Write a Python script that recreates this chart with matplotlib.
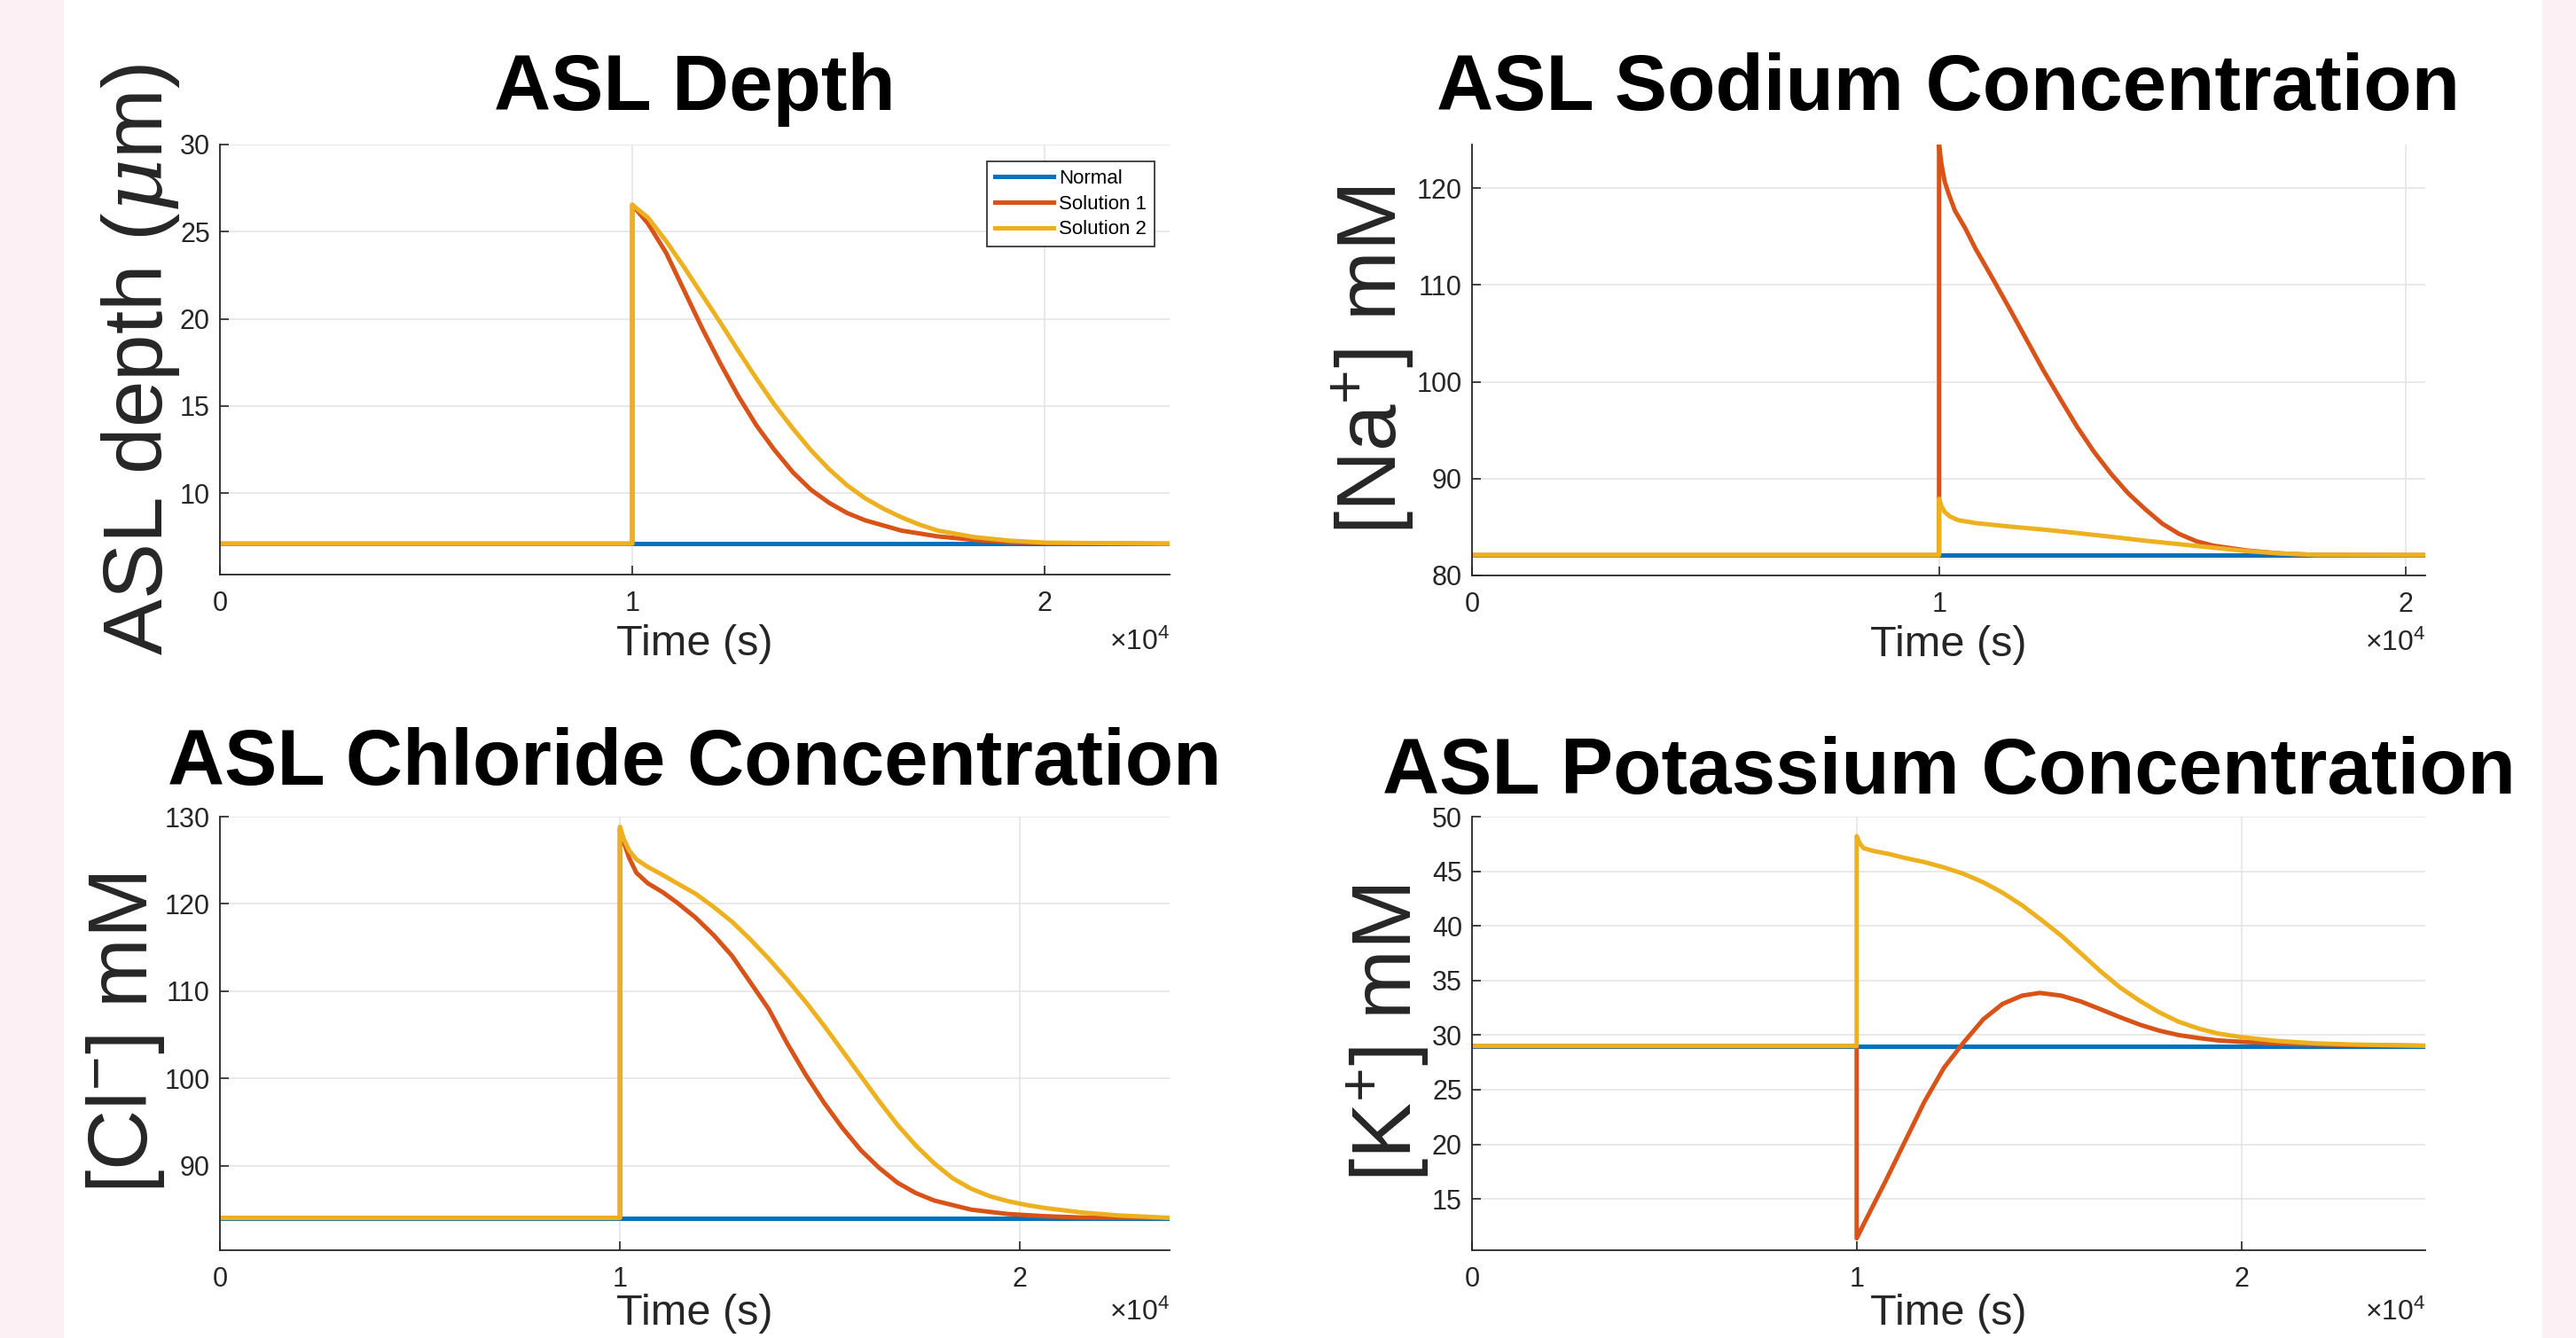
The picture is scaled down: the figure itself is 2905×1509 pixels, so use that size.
import matplotlib
matplotlib.use('Agg')
import matplotlib.pyplot as plt
from matplotlib import font_manager
from matplotlib.patches import Rectangle
from matplotlib.ticker import FuncFormatter

# ---- data (time in s) ----
series_labels = ['Normal', 'Solution 1', 'Solution 2']

depth_base = 7.1
depth_t1 = [0, 10000, 10000, 10380, 10820, 11260, 11700, 12140, 12570, 13010, 13450, 13890,
            14330, 14770, 15210, 15650, 16530, 17410, 18290, 19170, 20040, 23030]
depth_s1 = [7.1, 7.1, 26.54, 25.47, 23.79, 21.61, 19.43, 17.42, 15.57, 13.89, 12.47, 11.21,
            10.20, 9.45, 8.86, 8.44, 7.85, 7.52, 7.32, 7.18, 7.13, 7.10]
depth_t2 = [0, 10000, 10000, 10380, 10820, 11260, 11700, 12140, 12570, 13010, 13450, 13890,
            14330, 14770, 15210, 15650, 16090, 16530, 16970, 17410, 18290, 19170, 20040, 23030]
depth_s2 = [7.1, 7.1, 26.54, 25.81, 24.46, 22.95, 21.36, 19.77, 18.17, 16.58, 15.07, 13.72,
            12.47, 11.38, 10.45, 9.70, 9.11, 8.61, 8.19, 7.85, 7.48, 7.27, 7.16, 7.10]

na_base = 82.1
na_t1 = [0, 10000, 10000, 10050, 10120, 10200, 10340, 10560, 10780, 11140, 11510, 11870, 12230,
         12600, 12960, 13320, 13690, 14050, 14410, 14780, 15140, 15510, 15870, 16600, 17320,
         18050, 20410]
na_s1 = [82.1, 82.1, 124.47, 122.51, 120.69, 119.49, 117.67, 115.86, 113.75, 110.73, 107.55,
         104.38, 101.21, 98.19, 95.32, 92.75, 90.45, 88.48, 86.86, 85.35, 84.29, 83.53, 83.08,
         82.57, 82.27, 82.12, 82.1]
na_t2 = [0, 10000, 10000, 10050, 10120, 10230, 10410, 10780, 11510, 12230, 12960, 13690, 14410,
         15140, 15870, 16600, 17320, 18050, 20410]
na_s2 = [82.1, 82.1, 87.92, 87.16, 86.56, 86.10, 85.71, 85.41, 85.05, 84.74, 84.38, 83.99,
         83.59, 83.23, 82.87, 82.51, 82.27, 82.12, 82.1]

cl_base = 84.0
cl_t1 = [0, 10000, 10000, 10090, 10230, 10410, 10690, 11060, 11420, 11880, 12340, 12800, 13260,
         13720, 14180, 14640, 15100, 15560, 16020, 16480, 16940, 17400, 17860, 18780, 19700,
         20620, 21530, 23740]
cl_s1 = [84.0, 84.0, 128.6, 127.14, 125.27, 123.57, 122.38, 121.36, 120.17, 118.47, 116.43,
         114.05, 111.0, 107.93, 104.01, 100.44, 97.21, 94.32, 91.77, 89.73, 88.03, 86.84,
         85.99, 84.95, 84.45, 84.2, 84.05, 84.0]
cl_t2 = [0, 10000, 10000, 10090, 10230, 10410, 10690, 11060, 11420, 11880, 12340, 12800, 13260,
         13720, 14180, 14640, 15100, 15560, 16020, 16480, 16940, 17400, 17860, 18320, 18780,
         19240, 19700, 20160, 20620, 21530, 22450, 23740]
cl_s2 = [84.0, 84.0, 128.84, 127.48, 126.12, 125.10, 124.25, 123.33, 122.38, 121.19, 119.66,
         117.96, 115.92, 113.71, 111.33, 108.78, 106.05, 103.16, 100.27, 97.38, 94.66, 92.28,
         90.24, 88.54, 87.35, 86.50, 85.92, 85.48, 85.14, 84.63, 84.29, 84.01]

k_base = 29.0
k_t1 = [0, 10000, 10000, 10230, 10740, 11250, 11760, 12270, 12780, 13290, 13790, 14300, 14760,
        15320, 15830, 16340, 16850, 17360, 17860, 18370, 18880, 19390, 20000, 21420, 22950, 24780]
k_s1 = [29.0, 29.0, 11.39, 13.02, 16.55, 20.22, 23.89, 27.01, 29.32, 31.44, 32.85, 33.61, 33.86,
        33.61, 33.07, 32.36, 31.63, 30.95, 30.41, 30.00, 29.73, 29.51, 29.38, 29.18, 29.08, 29.02]
k_t2 = [0, 10000, 10000, 10080, 10180, 10440, 10840, 11250, 11760, 12270, 12780, 13290, 13790,
        14300, 14810, 15320, 15830, 16340, 16850, 17360, 17860, 18370, 18880, 19390, 20000,
        20920, 21930, 22950, 24780]
k_s2 = [29.0, 29.0, 48.21, 47.53, 47.12, 46.85, 46.58, 46.22, 45.84, 45.35, 44.76, 43.99, 43.04,
        41.88, 40.52, 39.10, 37.47, 35.84, 34.35, 33.13, 32.09, 31.22, 30.60, 30.14, 29.81,
        29.46, 29.24, 29.13, 29.02]

# ---- fonts ----
names = {f.name for f in font_manager.fontManager.ttflist}
NARROW = 'Liberation Sans Narrow' if 'Liberation Sans Narrow' in names else 'Liberation Sans'
plt.rcParams['font.family'] = NARROW
plt.rcParams['mathtext.fontset'] = 'custom'
plt.rcParams['mathtext.rm'] = 'Liberation Sans'
plt.rcParams['mathtext.it'] = 'DejaVu Serif:italic'
plt.rcParams['mathtext.bf'] = 'Liberation Sans:bold'

colors = ['#0072BD', '#D95319', '#EDB120']
dark = '#262626'
W, H = 2905, 1509

fig = plt.figure(figsize=(W / 100, H / 100), dpi=100)
fig.patch.set_facecolor('#fcf0f4')
fig.add_artist(Rectangle((72 / W, 0), (2867 - 72) / W, 1, transform=fig.transFigure,
                         facecolor='white', edgecolor='none', zorder=-5))


def make_axes(box):
    l, t, r, b = box
    return fig.add_axes([l / W, 1 - b / H, (r - l) / W, (b - t) / H])


panels = [
    dict(box=(248, 163, 1319, 648), title='ASL Depth', tpad=28,
         ylabel=r'ASL depth ($\mu$m)', ylx=-0.040,
         t1=depth_t1, s1=depth_s1, t2=depth_t2, s2=depth_s2, base=depth_base,
         xmax=23030, ylim=(5.33, 30), yticks=[10, 15, 20, 25, 30], xly=-0.161),
    dict(box=(1660, 163, 2735, 649), title='ASL Sodium Concentration', tpad=28,
         ylabel=r'[Na$^{+}$] mM', ylx=-0.058,
         t1=na_t1, s1=na_s1, t2=na_t2, s2=na_s2, base=na_base,
         xmax=20410, ylim=(80, 124.5), yticks=[80, 90, 100, 110, 120], xly=-0.161),
    dict(box=(248, 921, 1319, 1410), title='ASL Chloride Concentration', tpad=26,
         ylabel=r'[Cl$^{-}$] mM', ylx=-0.056,
         t1=cl_t1, s1=cl_s1, t2=cl_t2, s2=cl_s2, base=cl_base,
         xmax=23740, ylim=(80.3, 130), yticks=[90, 100, 110, 120, 130], xly=-0.147),
    dict(box=(1660, 921, 2735, 1410), title='ASL Potassium Concentration', tpad=19,
         ylabel=r'[K$^{+}$] mM', ylx=-0.042,
         t1=k_t1, s1=k_s1, t2=k_t2, s2=k_s2, base=k_base,
         xmax=24780, ylim=(10.3, 50), yticks=[15, 20, 25, 30, 35, 40, 45, 50], xly=-0.147),
]

for i, p in enumerate(panels):
    ax = make_axes(p['box'])
    ax.plot([0, p['xmax']], [p['base'], p['base']], color=colors[0], lw=3.6, label=series_labels[0])
    ax.plot(p['t1'], p['s1'], color=colors[1], lw=3.6, label=series_labels[1])
    ax.plot(p['t2'], p['s2'], color=colors[2], lw=3.6, label=series_labels[2])

    ax.set_xlim(0, p['xmax'])
    ax.set_ylim(*p['ylim'])
    ax.set_xticks([0, 10000, 20000])
    ax.set_yticks(p['yticks'])
    ax.xaxis.set_major_formatter(FuncFormatter(lambda v, pos: f'{v / 1e4:g}'))

    for s in ['top', 'right']:
        ax.spines[s].set_visible(False)
    for s in ['left', 'bottom']:
        ax.spines[s].set_color(dark)
        ax.spines[s].set_linewidth(1.3)
    ax.tick_params(direction='in', length=7, width=1.2, colors=dark, labelsize=22)
    ax.tick_params(axis='x', pad=13)
    ax.tick_params(axis='y', pad=8)
    ax.grid(True, color='#e3e3e3', linewidth=1.1)
    ax.set_axisbelow(True)

    ax.set_title(p['title'], fontsize=64, fontweight='bold', fontfamily='Liberation Sans',
                 color='black', pad=p['tpad'])
    ax.set_ylabel(p['ylabel'], fontsize=68, fontfamily='Liberation Sans', color=dark)
    ax.yaxis.set_label_coords(p['ylx'], 0.5)
    ax.set_xlabel('Time (s)', fontsize=35, color=dark)
    ax.xaxis.label.set_va('center')
    ax.xaxis.set_label_coords(0.5, p['xly'])
    ax.text(1.0, p['xly'] + 0.004, '×10$^{4}$', transform=ax.transAxes, ha='right',
            va='center', fontsize=23, color=dark)

    if i == 0:
        leg = ax.legend(loc='upper right', bbox_to_anchor=(0.984, 0.961), borderaxespad=0,
                        prop={'family': 'Liberation Sans', 'size': 16}, fancybox=False,
                        edgecolor=dark, framealpha=1, handlelength=3.0, handletextpad=0.25,
                        labelspacing=0.35, borderpad=0.4)
        leg.get_frame().set_linewidth(1.2)

fig.savefig('out.png', dpi=100, facecolor=fig.get_facecolor())
